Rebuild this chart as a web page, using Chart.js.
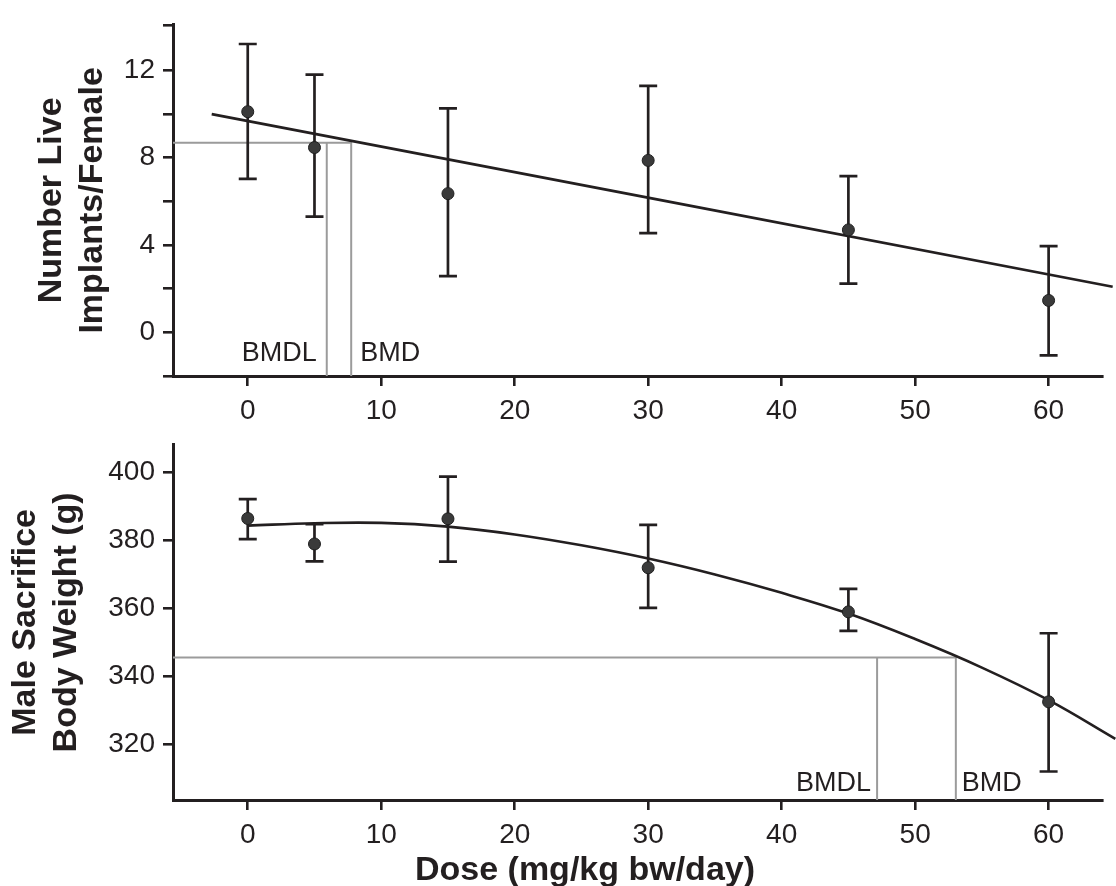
<!DOCTYPE html>
<html>
<head>
<meta charset="utf-8">
<script src="https://cdn.jsdelivr.net/npm/chart.js@4"></script>
<style>
  html, body { margin: 0; padding: 0; background: #fff; }
  #wrap { position: relative; width: 1116px; height: 886px; }
  #top { position: absolute; left: 0; top: 0; }
  #bottom { position: absolute; left: 0; top: 420px; }
</style>
</head>
<body>
<div id="wrap">
  <canvas id="top" width="1116" height="420"></canvas>
  <canvas id="bottom" width="1116" height="466"></canvas>
</div>
<script>
// doses shared by both panels
const doses = [0, 5, 15, 30, 45, 60];
const xTicks = [0, 10, 20, 30, 40, 50, 60];

// top panel: live implants per female
const implantsMean = [10.1, 8.46, 6.35, 7.87, 4.69, 1.46];
const implantsHigh = [13.2, 11.8, 10.25, 11.28, 7.15, 3.95];
const implantsLow = [7.03, 5.3, 2.57, 4.54, 2.23, -1.06];
const implantsFitX = [-2.7, 64.8];
const implantsFitY = [9.99, 2.09];
const implantsBmr = 8.68;
const implantsBmdl = 5.92;
const implantsBmd = 7.75;
const implantsTicks = [0, 2, 4, 6, 8, 10, 12];
const implantsLabels = [0, 4, 8, 12];

// bottom panel: male body weight at sacrifice
const weightMean = [386.5, 379.0, 386.4, 372.0, 359.0, 332.5];
const weightHigh = [392.2, 384.8, 398.8, 384.6, 365.8, 352.7];
const weightLow = [380.4, 373.9, 373.8, 360.2, 353.4, 312.0];
const weightFitX = [0, 5, 10, 15, 20, 25, 30, 35, 40, 45, 50, 55, 60, 65];
const weightFitY = [384.4, 385.1, 385.2, 384.1, 381.8, 378.6, 374.7, 370.0, 364.6, 358.5, 351.0, 342.6, 333.0, 321.6];
const weightBmr = 345.6;
const weightBmdl = 47.15;
const weightBmd = 53.05;
const weightTicks = [320, 340, 360, 380, 400];

const ink = '#231f20';
const gray = '#9b9b9b';
const family = '"Liberation Sans", Arial, Helvetica, sans-serif';
const xMin = -5.6, xMax = 64;

function pairs(xs, ys) {
  return xs.map((x, i) => ({ x: x, y: ys[i] }));
}

function errorBars(lo, hi) {
  const pts = [];
  doses.forEach((d, i) => {
    pts.push({ x: d, y: lo[i] }, { x: d, y: hi[i] }, { x: d, y: null });
  });
  return pts;
}

const bmdLabels = {
  id: 'bmdLabels',
  afterDatasetsDraw(chart, args, opts) {
    const { ctx, scales: { x, y } } = chart;
    ctx.save();
    ctx.font = '27px ' + family;
    ctx.fillStyle = ink;
    ctx.textBaseline = 'alphabetic';
    const base = y.bottom - opts.lift;
    ctx.textAlign = 'right';
    ctx.fillText('BMDL', x.getPixelForValue(opts.bmdl) - opts.gapL, base);
    ctx.textAlign = 'left';
    ctx.fillText('BMD', x.getPixelForValue(opts.bmd) + opts.gapR, base);
    if (opts.xTitle) {
      ctx.font = 'bold 34px ' + family;
      ctx.textAlign = 'center';
      ctx.fillText(opts.xTitle, 585, 460);
    }
    ctx.restore();
  }
};

function makePanel(id, p) {
  const datasets = [
    {
      data: pairs(doses, p.mean),
      pointRadius: 6,
      pointBackgroundColor: '#3a3a3a',
      pointBorderColor: '#1e1e1e',
      pointBorderWidth: 1
    },
    {
      data: errorBars(p.low, p.high),
      showLine: true,
      spanGaps: false,
      borderColor: ink,
      borderWidth: 2.7,
      pointStyle: 'line',
      pointRadius: 9,
      pointBorderColor: ink,
      pointBorderWidth: 2.7
    },
    {
      data: pairs(p.fitX, p.fitY),
      showLine: true,
      borderColor: ink,
      borderWidth: 2.6,
      pointRadius: 0,
      tension: 0.4,
      clip: false
    },
    {
      data: [{ x: xMin, y: p.bmr }, { x: p.bmd, y: p.bmr }, { x: p.bmd, y: p.yMin }],
      showLine: true,
      borderColor: gray,
      borderWidth: 2,
      pointRadius: 0
    },
    {
      data: [{ x: p.bmdl, y: p.bmr }, { x: p.bmdl, y: p.yMin }],
      showLine: true,
      borderColor: gray,
      borderWidth: 2,
      pointRadius: 0
    }
  ];

  return new Chart(document.getElementById(id), {
    type: 'scatter',
    data: { datasets: datasets },
    plugins: [bmdLabels],
    options: {
      responsive: false,
      animation: false,
      devicePixelRatio: 1,
      events: [],
      layout: { padding: { top: p.padTop, right: 14, left: 0, bottom: 0 } },
      plugins: {
        legend: { display: false },
        tooltip: { enabled: false },
        bmdLabels: p.labels
      },
      scales: {
        x: {
          type: 'linear',
          min: xMin,
          max: xMax,
          afterBuildTicks: s => { s.ticks = xTicks.map(v => ({ value: v })); },
          afterFit: s => { s.height = p.xHeight; },
          ticks: {
            autoSkip: false,
            maxRotation: 0,
            padding: 8,
            color: ink,
            font: { family: family, size: 28 }
          },
          grid: { drawOnChartArea: false, drawTicks: true, tickLength: 10, lineWidth: 2.6, color: ink },
          border: { display: true, width: 3, color: ink }
        },
        y: {
          type: 'linear',
          min: p.yMin,
          max: p.yMax,
          afterBuildTicks: s => { s.ticks = p.yTicks.map(v => ({ value: v })); },
          afterFit: s => { s.width = 173; },
          ticks: {
            autoSkip: false,
            padding: 8,
            color: ink,
            font: { family: family, size: 28 },
            callback: v => (p.yLabels.includes(v) ? String(v) : '')
          },
          grid: { drawOnChartArea: false, drawTicks: true, tickLength: 10, lineWidth: 2.6, color: ink },
          border: { display: true, width: 3, color: ink },
          title: {
            display: true,
            text: p.yTitle,
            color: ink,
            padding: { top: p.titlePad, bottom: 0 },
            font: { family: family, size: 34, weight: 'bold', lineHeight: 1.2 }
          }
        }
      }
    }
  });
}

makePanel('top', {
  mean: implantsMean, low: implantsLow, high: implantsHigh,
  fitX: implantsFitX, fitY: implantsFitY,
  bmr: implantsBmr, bmd: implantsBmd, bmdl: implantsBmdl,
  yMin: -2.0, yMax: 14.08,
  yTicks: [-2.0].concat(implantsTicks, [14.08]),
  yLabels: implantsLabels,
  yTitle: ['Number Live', 'Implants/Female'],
  titlePad: 31,
  padTop: 15,
  xHeight: 44,
  labels: { bmd: implantsBmd, bmdl: implantsBmdl, lift: 15, gapL: 10, gapR: 9 }
});

makePanel('bottom', {
  mean: weightMean, low: weightLow, high: weightHigh,
  fitX: weightFitX, fitY: weightFitY,
  bmr: weightBmr, bmd: weightBmd, bmdl: weightBmdl,
  yMin: 303.6, yMax: 408.2,
  yTicks: weightTicks,
  yLabels: weightTicks,
  yTitle: ['Male Sacrifice', 'Body Weight (g)'],
  titlePad: 5,
  padTop: 18,
  xHeight: 86,
  labels: { bmd: weightBmd, bmdl: weightBmdl, lift: 9, gapL: 6, gapR: 6, xTitle: 'Dose (mg/kg bw/day)' }
});
</script>
</body>
</html>
